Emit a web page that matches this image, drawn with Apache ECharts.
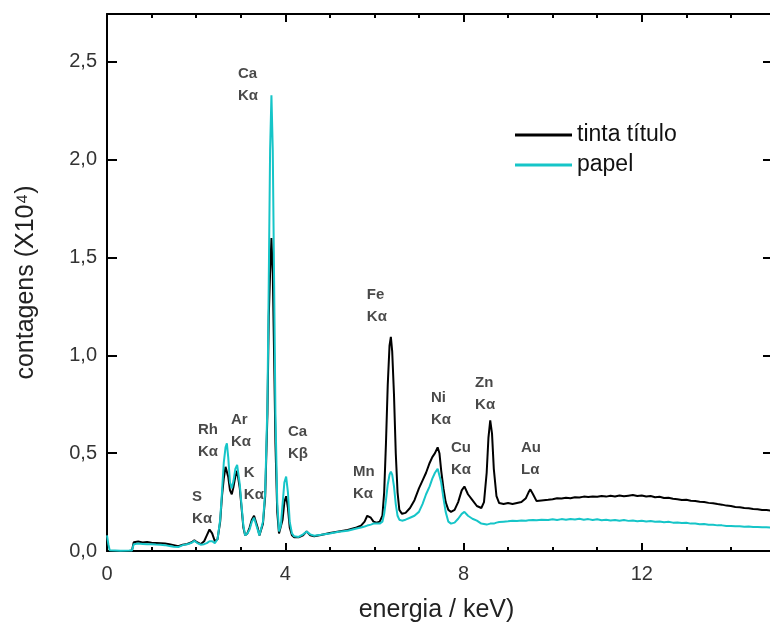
<!DOCTYPE html>
<html><head><meta charset="utf-8">
<script src="https://cdn.jsdelivr.net/npm/echarts@6/dist/echarts.min.js"></script>
<style>html,body{margin:0;padding:0;background:#fff}#c{width:770px;height:627px}</style>
</head><body><div id="c"></div>
<script>
// Energy channels (keV)
const energy = [
  0.00, 0.03, 0.06, 0.10, 0.30, 0.50, 0.56, 0.60,
  0.70, 0.80, 0.90, 1.00, 1.10, 1.20, 1.30, 1.40, 1.50, 1.60, 1.70, 1.80, 1.90, 1.96, 2.02, 2.10, 2.18, 2.24, 2.30, 2.36, 2.42, 2.48,
  2.54, 2.58, 2.62, 2.66, 2.69, 2.72, 2.76, 2.80, 2.84, 2.88, 2.92, 2.95, 2.98, 3.02, 3.06, 3.10, 3.15, 3.20, 3.25, 3.30, 3.34, 3.38, 3.42, 3.46, 3.50,
  3.55, 3.60, 3.63, 3.66, 3.69, 3.72, 3.75, 3.78, 3.82, 3.86, 3.90, 3.94, 3.98, 4.02, 4.06, 4.10, 4.15, 4.20, 4.30, 4.40, 4.48, 4.56, 4.65,
  4.80, 5.00, 5.20, 5.40, 5.60, 5.70, 5.78, 5.84, 5.88, 5.92, 5.98, 6.05, 6.12, 6.18, 6.22, 6.26, 6.30, 6.34, 6.37, 6.40, 6.44, 6.48, 6.52, 6.56, 6.62,
  6.70, 6.80, 6.90, 7.00, 7.08, 7.16, 7.24, 7.30, 7.36, 7.42, 7.46, 7.50, 7.55, 7.60, 7.66, 7.72, 7.80, 7.88, 7.96, 8.02, 8.10, 8.20, 8.30, 8.40,
  8.46, 8.52, 8.56, 8.60, 8.64, 8.68, 8.74, 8.80, 8.90, 9.00, 9.10, 9.20, 9.30, 9.40, 9.46, 9.50, 9.56, 9.64, 9.75, 9.90,
  10.0, 10.1, 10.2, 10.3, 10.4, 10.5, 10.6, 10.7, 10.8, 10.9,
  11.0, 11.1, 11.2, 11.3, 11.4, 11.5, 11.6, 11.7, 11.8, 11.9,
  12.0, 12.1, 12.2, 12.3, 12.4, 12.5, 12.6, 12.7, 12.8, 12.9,
  13.0, 13.1, 13.2, 13.3, 13.4, 13.5, 13.6, 13.7, 13.8, 13.9,
  14.0, 14.1, 14.2, 14.3, 14.4, 14.5, 14.6, 14.7, 14.8, 14.9
];
// contagens (x10^4) — "tinta título"
const inkCounts = [
  0, 0, 0, 0, 0, 0, 0.002, 0.045,
  0.048, 0.044, 0.046, 0.042, 0.041, 0.040, 0.038, 0.034, 0.030, 0.025, 0.032, 0.036, 0.045, 0.055, 0.045, 0.035, 0.050, 0.080, 0.110, 0.090, 0.050, 0.060,
  0.15, 0.28, 0.37, 0.43, 0.44, 0.38, 0.31, 0.29, 0.33, 0.38, 0.41, 0.40, 0.32, 0.22, 0.12, 0.08, 0.09, 0.12, 0.16, 0.18, 0.17, 0.12, 0.08, 0.09, 0.14,
  0.28, 0.70, 1.20, 1.42, 1.60, 1.42, 1.00, 0.55, 0.20, 0.09, 0.10, 0.16, 0.25, 0.28, 0.22, 0.12, 0.08, 0.07, 0.07, 0.08, 0.10, 0.08, 0.075,
  0.082, 0.092, 0.100, 0.108, 0.120, 0.130, 0.150, 0.180, 0.190, 0.170, 0.150, 0.145, 0.150, 0.180, 0.30, 0.55, 0.85, 1.05, 1.095, 1.02, 0.80, 0.50, 0.30, 0.21, 0.19,
  0.195, 0.22, 0.26, 0.32, 0.36, 0.40, 0.45, 0.48, 0.50, 0.53, 0.50, 0.41, 0.32, 0.25, 0.21, 0.20, 0.21, 0.25, 0.31, 0.33, 0.29, 0.26, 0.23, 0.22,
  0.25, 0.40, 0.58, 0.668, 0.60, 0.42, 0.28, 0.245, 0.24, 0.245, 0.24, 0.245, 0.25, 0.27, 0.30, 0.315, 0.29, 0.255, 0.258, 0.262,
  0.265, 0.270, 0.268, 0.272, 0.270, 0.275, 0.273, 0.278, 0.276, 0.279,
  0.277, 0.281, 0.278, 0.282, 0.279, 0.284, 0.280, 0.283, 0.286, 0.281,
  0.284, 0.279, 0.281, 0.275, 0.277, 0.271, 0.272, 0.267, 0.265, 0.261,
  0.262, 0.257, 0.256, 0.252, 0.250, 0.246, 0.244, 0.240, 0.237, 0.232,
  0.230, 0.225, 0.224, 0.220, 0.218, 0.215, 0.213, 0.210, 0.209, 0.207
];
// contagens (x10^4) — "papel"
const paperCounts = [
  0.08, 0.035, 0.004, 0.001, 0.001, 0.002, 0.003, 0.035,
  0.038, 0.036, 0.034, 0.035, 0.033, 0.032, 0.030, 0.026, 0.022, 0.020, 0.030, 0.034, 0.042, 0.052, 0.042, 0.032, 0.035, 0.040, 0.050, 0.050, 0.040, 0.060,
  0.16, 0.30, 0.45, 0.53, 0.55, 0.48, 0.35, 0.32, 0.36, 0.42, 0.44, 0.43, 0.34, 0.23, 0.13, 0.08, 0.09, 0.11, 0.15, 0.17, 0.16, 0.11, 0.08, 0.09, 0.15,
  0.30, 0.75, 1.38, 2.05, 2.33, 2.05, 1.38, 0.70, 0.25, 0.10, 0.13, 0.24, 0.35, 0.38, 0.30, 0.15, 0.09, 0.075, 0.072, 0.085, 0.10, 0.085, 0.078,
  0.083, 0.090, 0.098, 0.104, 0.115, 0.120, 0.125, 0.130, 0.135, 0.135, 0.140, 0.140, 0.140, 0.150, 0.19, 0.26, 0.34, 0.39, 0.405, 0.39, 0.33, 0.24, 0.18, 0.16, 0.155,
  0.16, 0.17, 0.18, 0.20, 0.24, 0.29, 0.33, 0.37, 0.40, 0.42, 0.41, 0.35, 0.27, 0.20, 0.15, 0.14, 0.145, 0.165, 0.19, 0.20, 0.18, 0.165, 0.155, 0.14,
  0.138, 0.135, 0.14, 0.14, 0.138, 0.14, 0.145, 0.148, 0.15, 0.152, 0.155, 0.153, 0.156, 0.155, 0.157, 0.156, 0.158, 0.157, 0.16, 0.158,
  0.162, 0.158, 0.163, 0.160, 0.164, 0.161, 0.165, 0.160, 0.163, 0.158,
  0.162, 0.157, 0.160, 0.156, 0.159, 0.155, 0.158, 0.154, 0.156, 0.152,
  0.155, 0.151, 0.153, 0.149, 0.151, 0.147, 0.149, 0.145, 0.146, 0.143,
  0.144, 0.140, 0.141, 0.137, 0.138, 0.134, 0.134, 0.131, 0.131, 0.128,
  0.128, 0.126, 0.126, 0.124, 0.125, 0.123, 0.123, 0.121, 0.122, 0.120
];
// Peak annotations (top-left anchor in data coordinates)
const peakNames = ['S\nKα', 'Rh\nKα', 'Ar\nKα', 'K\nKα', 'Ca\nKα', 'Ca\nKβ', 'Mn\nKα', 'Fe\nKα', 'Ni\nKα', 'Cu\nKα', 'Zn\nKα', 'Au\nLα'];
const peakLabelE = [1.91, 2.04, 2.78, 3.07, 2.94, 4.06, 5.52, 5.83, 7.27, 7.72, 8.26, 9.29];
const peakLabelV = [0.332, 0.675, 0.726, 0.455, 2.495, 0.665, 0.46, 1.365, 0.838, 0.583, 0.915, 0.583];
const seriesNames = ['tinta título', 'papel'];
const xTicks = {min: 0, max: 16, interval: 4};
const yTicks = {min: 0, max: 2.745, interval: 0.5};

const FONT = '"Liberation Sans", Arial, sans-serif';
const CYAN = '#16c5c8';
const inkData = energy.map((e, i) => [e, inkCounts[i]]);
const paperData = energy.map((e, i) => [e, paperCounts[i]]);
const annoData = peakNames.map((n, i) => ({name: n, value: [peakLabelE[i], peakLabelV[i]]}));

const axisLine = {show: true, onZero: false, lineStyle: {color: '#000', width: 2}};
const chart = echarts.init(document.getElementById('c'), null, {renderer: 'canvas'});
chart.setOption({
  animation: false,
  backgroundColor: '#fff',
  grid: {left: 107, width: 713, top: 14, height: 537, containLabel: false, outerBoundsMode: 'none'},
  legend: {
    data: seriesNames, orient: 'vertical', left: 510, top: 118,
    icon: 'rect', itemWidth: 57, itemHeight: 3, itemGap: 6,
    textStyle: {fontFamily: FONT, fontSize: 23, color: '#111', lineHeight: 24}
  },
  xAxis: [{
    type: 'value', position: 'bottom', min: xTicks.min, max: xTicks.max, interval: xTicks.interval,
    axisLine: axisLine,
    axisTick: {show: true, inside: true, length: 8, lineStyle: {color: '#000', width: 2}},
    minorTick: {show: true, splitNumber: 4, length: 4, lineStyle: {color: '#000', width: 2}},
    axisLabel: {color: '#333', fontSize: 20, fontFamily: FONT, margin: 13},
    splitLine: {show: false},
    name: 'energia / keV)', nameLocation: 'middle', nameGap: 47,
    nameTextStyle: {fontFamily: FONT, fontSize: 25, color: '#222', padding: [0, 54, 0, 0]}
  }, {
    type: 'value', position: 'top', min: xTicks.min, max: xTicks.max, interval: xTicks.interval,
    axisLine: axisLine,
    axisTick: {show: true, inside: true, length: 8, lineStyle: {color: '#000', width: 2}},
    minorTick: {show: true, splitNumber: 4, length: 4, lineStyle: {color: '#000', width: 2}},
    axisLabel: {show: false}, splitLine: {show: false}
  }],
  yAxis: [{
    type: 'value', position: 'left', min: yTicks.min, max: yTicks.max, interval: yTicks.interval,
    axisLine: axisLine,
    axisTick: {show: true, inside: true, length: 10, lineStyle: {color: '#000', width: 2}},
    axisLabel: {color: '#333', fontSize: 20, fontFamily: FONT, margin: 10, showMaxLabel: false,
      formatter: v => v.toFixed(1).replace('.', ',')},
    splitLine: {show: false},
    name: 'contagens (X10⁴)', nameLocation: 'middle', nameGap: 68,
    nameTextStyle: {fontFamily: FONT, fontSize: 25, color: '#222'}
  }, {
    type: 'value', position: 'right', offset: -49, min: yTicks.min, max: yTicks.max, interval: yTicks.interval,
    axisLine: axisLine,
    axisTick: {show: true, inside: true, length: 8, lineStyle: {color: '#000', width: 2}},
    axisLabel: {show: false}, splitLine: {show: false}
  }],
  series: [{
    name: seriesNames[0], type: 'line', data: inkData, symbol: 'none', showSymbol: false,
    lineStyle: {color: '#000', width: 2}, itemStyle: {color: '#000'}, z: 2
  }, {
    name: seriesNames[1], type: 'line', data: paperData, symbol: 'none', showSymbol: false,
    lineStyle: {color: CYAN, width: 2}, itemStyle: {color: CYAN}, z: 3
  }, {
    type: 'scatter', data: annoData, symbolSize: 0, silent: true, z: 4,
    label: {show: true, position: [0, 0], align: 'left', verticalAlign: 'top', formatter: '{b}',
      fontFamily: FONT, fontSize: 15, fontWeight: 'bold', color: '#1a1a1a', lineHeight: 22}
  }]
});
</script></body></html>
